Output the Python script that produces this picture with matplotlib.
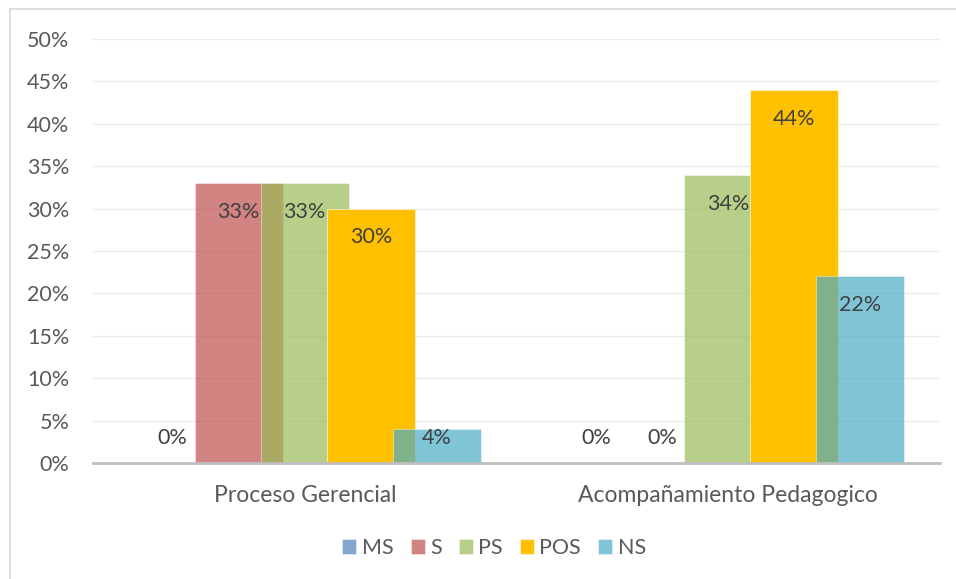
import matplotlib.pyplot as plt
import numpy as np
from matplotlib.patches import Rectangle

categories = ['Proceso Gerencial', 'Acompañamiento Pedagogico']
series = ['MS', 'S', 'PS', 'POS', 'NS']
ms = [0, 0]
s = [33, 0]
ps = [33, 34]
pos = [30, 44]
ns = [4, 22]
values = [ms, s, ps, pos, ns]

colors = ['#4F81BD', '#C0504D', '#9BBB59', '#FFC000', '#4BACC6']
alphas = [0.7, 0.7, 0.7, 1.0, 0.7]

plt.rcParams['font.family'] = ['Lato', 'DejaVu Sans']
txt = '#595959'
fs = 15.5

fig = plt.figure(figsize=(9.56, 5.79), dpi=100)
ax = fig.add_axes([93 / 956, 1 - 463 / 579, 847 / 956, 424 / 579])

# figure frame (only top and left edge show in the original)
fig.patches.append(Rectangle((9.5 / 956, -0.1), 1.2, 1 - 9.5 / 579 + 0.1,
                             transform=fig.transFigure, fill=False,
                             edgecolor='#D9D9D9', linewidth=1.2))

x = np.arange(len(categories))
width = 0.208
step = 0.156
for i, (name, vals) in enumerate(zip(series, values)):
    pos_x = x + (i - 2) * step
    ax.bar(pos_x, vals, width, color=colors[i], alpha=alphas[i],
           edgecolor='white', linewidth=0.4, label=name, zorder=2 + i)

# data labels, inside end (kept above the base for tiny bars)
for i, vals in enumerate(values):
    pos_x = x + (i - 2) * step
    for px, v in zip(pos_x, vals):
        if v == 0 and i > 1:
            continue
        ly = max(v - 3.4, 3.0)
        ax.text(px, ly, f'{v}%', ha='center', va='center', fontsize=fs,
                color='#404040', zorder=20)

ax.set_xlim(-0.5, 1.5)
ax.set_ylim(0, 50)
ax.set_yticks(np.arange(0, 51, 5))
ax.set_yticklabels([f'{t}%' for t in range(0, 51, 5)], fontsize=fs, color=txt)
ax.set_xticks(x)
ax.set_xticklabels(categories, fontsize=16.5, color=txt)
ax.tick_params(axis='both', length=0)
ax.tick_params(axis='y', pad=17)
ax.tick_params(axis='x', pad=16)

ax.grid(axis='y', color='#EBEBEB', linewidth=1, zorder=0)
ax.set_axisbelow(True)
for sp in ['top', 'right', 'left']:
    ax.spines[sp].set_visible(False)
ax.spines['bottom'].set_color('#BFBFBF')
ax.spines['bottom'].set_linewidth(2)
ax.spines['bottom'].set_zorder(30)

leg = fig.legend(loc='center', bbox_to_anchor=(494 / 956, 1 - 548 / 579), ncol=5,
                 frameon=False, fontsize=fs, handlelength=0.65, handleheight=0.65,
                 handletextpad=0.25, columnspacing=0.8)
for t in leg.get_texts():
    t.set_color(txt)

fig.savefig('out.png', dpi=100)
